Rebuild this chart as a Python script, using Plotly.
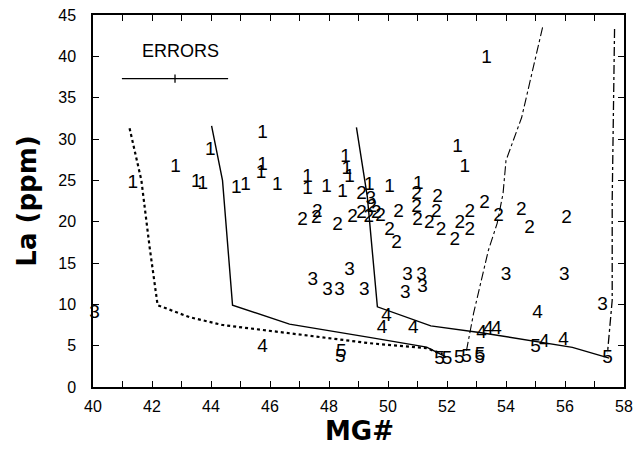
import plotly.graph_objects as go

# ---- data ----
g1_x = [53.34, 45.75, 43.98, 42.8, 43.5, 43.72, 41.35, 44.86, 45.17, 45.75, 45.7, 46.25,
        47.27, 47.27, 47.92, 48.46, 48.56, 48.6, 48.7, 49.37, 50.05, 51.03, 52.36, 52.6]
g1_y = [39.8, 30.7, 28.6, 26.6, 24.8, 24.5, 24.6, 24.0, 24.4, 26.8, 25.8, 24.4,
        25.4, 23.9, 24.2, 23.6, 27.8, 26.4, 25.4, 24.4, 24.2, 24.5, 29.0, 26.6]

g2_x = [47.1, 47.57, 47.6, 48.29, 48.8, 49.1, 49.35, 49.6, 49.75, 49.45, 49.1, 50.05, 50.29,
        50.36, 50.97, 50.97, 51.0, 51.4, 51.64, 51.68, 51.8, 52.26, 52.43, 52.77, 52.77,
        53.27, 53.75, 54.52, 54.8, 56.05]
g2_y = [20.2, 20.4, 21.1, 19.6, 20.5, 21.0, 20.5, 21.0, 20.6, 21.8, 23.3, 19.0, 17.4,
        21.1, 21.7, 23.3, 20.2, 19.8, 21.1, 23.0, 19.0, 17.8, 19.8, 19.0, 21.1,
        22.2, 20.7, 21.4, 19.2, 20.4]

g3_x = [40.05, 47.45, 48.7, 47.95, 48.36, 49.2, 50.66, 51.14, 51.17, 50.59, 54.0, 55.98, 57.27, 49.42]
g3_y = [8.9, 12.9, 14.1, 11.7, 11.7, 11.7, 13.5, 13.5, 12.1, 11.3, 13.5, 13.5, 9.9, 22.7]

g4_x = [45.75, 49.95, 49.8, 50.86, 53.17, 53.4, 53.68, 55.07, 55.3, 55.95]
g4_y = [4.8, 8.5, 7.1, 7.1, 6.5, 7.0, 7.0, 8.9, 5.4, 5.7]

g5_x = [48.42, 48.38, 51.75, 52.0, 52.42, 52.66, 53.1, 53.12, 55.0, 57.44]
g5_y = [4.2, 3.6, 3.3, 3.3, 3.5, 3.6, 3.5, 3.8, 4.8, 3.5]

dot_x = [41.24, 41.64, 41.92, 42.19, 43.27, 44.39, 46.66, 49.37, 51.3, 51.85]
dot_y = [31.3, 25.0, 16.9, 9.9, 8.45, 7.5, 6.5, 5.3, 4.7, 4.0]

solid1_x = [44.02, 44.39, 44.73, 46.66, 49.37, 51.31, 51.98]
solid1_y = [31.6, 25.0, 9.9, 7.6, 6.0, 4.83, 3.6]

solid2_x = [48.93, 49.3, 49.64, 51.45, 53.1, 55.1, 56.25, 57.5]
solid2_y = [31.4, 23.0, 9.7, 7.4, 6.6, 5.4, 4.8, 3.5]

dd1_x = [55.24, 54.53, 54.0, 53.9, 53.7, 53.4, 52.9, 52.66]
dd1_y = [43.5, 32.6, 27.4, 23.4, 19.8, 16.5, 8.9, 4.4]

dd2_x = [57.68, 57.6, 57.6, 57.47, 57.44]
dd2_y = [43.3, 22.6, 10.5, 5.3, 4.1]

err_x = [40.98, 44.58]
err_y = [37.3, 37.3]
err_mid_x = [42.78, 42.78]
err_mid_y = [36.8, 37.8]

x_ticks = list(range(40, 59))
x_labels = [str(v) if v % 2 == 0 else "" for v in x_ticks]
y_ticks = list(range(0, 46, 5))

fig = go.Figure()

def line(x, y, dash, width):
    fig.add_trace(go.Scatter(x=x, y=y, mode="lines",
                             line=dict(color="black", dash=dash, width=width),
                             hoverinfo="skip", showlegend=False))

line(dot_x, dot_y, "dot", 2.2)
line(solid1_x, solid1_y, "solid", 1.4)
line(solid2_x, solid2_y, "solid", 1.4)
line(dd1_x, dd1_y, "dashdot", 1.1)
line(dd2_x, dd2_y, "dashdot", 1.3)
line(err_x, err_y, "solid", 1.3)
line(err_mid_x, err_mid_y, "solid", 1.3)

mfont = dict(family="Liberation Sans, Arial, sans-serif", size=19, color="black")
for lab, xs, ys in [("1", g1_x, g1_y), ("2", g2_x, g2_y), ("3", g3_x, g3_y),
                    ("4", g4_x, g4_y), ("5", g5_x, g5_y)]:
    fig.add_trace(go.Scatter(x=xs, y=ys, mode="text", text=[lab] * len(xs),
                             textposition="middle center", textfont=mfont,
                             cliponaxis=False, showlegend=False))

fig.add_annotation(x=42.95, y=40.6, text="ERRORS", showarrow=False,
                   font=dict(family="Liberation Sans, Arial, sans-serif", size=18, color="black"))

tfont = dict(family="DejaVu Sans, sans-serif", size=26, color="black")
fig.add_annotation(xref="paper", yref="paper", x=0.502, y=-0.118, text="<b>MG#</b>",
                   showarrow=False, xanchor="center", yanchor="middle", font=tfont)
fig.add_annotation(xref="paper", yref="paper", x=-0.125, y=0.5, text="<b>La (ppm)</b>",
                   showarrow=False, xanchor="center", yanchor="middle", textangle=-90, font=tfont)

axis_common = dict(showline=True, linecolor="black", linewidth=1.5, mirror="ticks",
                   ticks="inside", ticklen=6, tickwidth=1, tickcolor="black",
                   showgrid=False, zeroline=False, automargin=False,
                   tickfont=dict(family="Liberation Sans, Arial, sans-serif", size=16, color="black"))

fig.update_layout(
    width=640, height=451,
    margin=dict(l=93, r=16, t=15, b=64),
    paper_bgcolor="white", plot_bgcolor="white",
    xaxis=dict(range=[40, 58], tickvals=x_ticks, ticktext=x_labels,
               ticklabelstandoff=4, **axis_common),
    yaxis=dict(range=[0, 45], tickvals=y_ticks, ticklabelstandoff=12, **axis_common),
)

fig.write_html("out.html")
